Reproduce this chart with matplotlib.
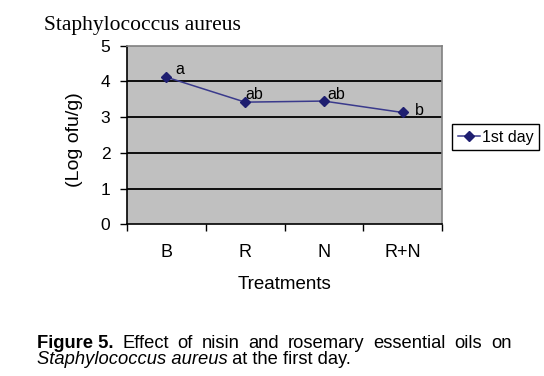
import matplotlib
matplotlib.use("Agg")
import matplotlib.pyplot as plt
from matplotlib.lines import Line2D

categories = ["B", "R", "N", "R+N"]
values = [4.12, 3.42, 3.45, 3.13]
letters = ["a", "ab", "ab", "b"]
series_name = "1st day"
y_ticks = [0, 1, 2, 3, 4, 5]

W, H = 544, 376
fig = plt.figure(figsize=(W / 100, H / 100), dpi=100)
plt.rcParams['font.family'] = ['Liberation Sans', 'DejaVu Sans']

L, R, T, B = 127, 442, 45.7, 224.3
ax = fig.add_axes([L / W, 1 - B / H, (R - L) / W, (B - T) / H])
ax.set_facecolor('#C0C0C0')
x = list(range(len(categories)))
ax.set_xlim(-0.5, len(categories) - 0.5)
ax.set_ylim(0, 5)
for yv in y_ticks[1:-1]:
    ax.axhline(yv, color='black', lw=1.3, zorder=1)

line_col = '#3A3A8C'
ax.plot(x, values, color=line_col, lw=1.1, marker='D', markersize=5,
        markerfacecolor='#1E1E70', markeredgecolor='#1E1E70', zorder=3)

offsets = [(9, 8), (0, 8), (4, 7), (12, 2)]
for xi, v, lab, off in zip(x, values, letters, offsets):
    ax.annotate(lab, (xi, v), xytext=off, textcoords='offset pixels',
                ha='left', va='center', fontsize=11.5, color='black')

ax.set_yticks(y_ticks)
ax.set_yticklabels([str(t) for t in y_ticks], fontsize=12.5)
ax.tick_params(axis='y', length=5, width=1, direction='out', pad=7, color='black')
ax.set_xticks(x)
ax.set_xticklabels(categories, fontsize=13)
ax.tick_params(axis='x', which='major', length=0, pad=14)
ax.set_xticks([i - 0.5 for i in range(len(categories) + 1)], minor=True)
ax.tick_params(axis='x', which='minor', length=5, width=1, direction='out', color='black')

ax.spines['left'].set_color('black')
ax.spines['bottom'].set_color('black')
ax.spines['top'].set_color('#808080')
ax.spines['right'].set_color('#808080')
for s in ax.spines.values():
    s.set_linewidth(1.2)

ax.set_xlabel("Treatments", fontsize=13.5, labelpad=11)
ax.set_ylabel("(Log ofu/g)", fontsize=14)
ax.yaxis.set_label_coords(-0.14, 0.475)

fig.text(44 / W, 1 - 30 / H, "Staphylococcus aureus", fontsize=15.5,
         family=['Liberation Serif', 'DejaVu Serif'], ha='left', va='baseline')

h = Line2D([], [], color=line_col, lw=1.1, marker='D', markersize=5,
           markerfacecolor='#1E1E70', markeredgecolor='#1E1E70')
leg = fig.legend([h], [series_name], loc='upper left',
                 bbox_to_anchor=(452 / W, 1 - 124 / H), fontsize=11.5,
                 frameon=True, fancybox=False, edgecolor='black', framealpha=1,
                 handlelength=1.4, handletextpad=0.1, borderpad=0.35,
                 borderaxespad=0)
leg.get_frame().set_linewidth(1.0)

# caption, first line justified
cap_fs = 13.2
x0, x1 = 36.7, 511.7
line1 = [("Figure 5.", 'bold')] + [(w, 'normal') for w in
         "Effect of nisin and rosemary essential oils on".split()]
objs = [fig.text(0, 1 - 343 / H, w, fontsize=cap_fs, fontweight=fw,
                 ha='left', va='center') for w, fw in line1]
fig.canvas.draw()
r = fig.canvas.get_renderer()
widths = [o.get_window_extent(r).width for o in objs]
gap = (x1 - x0 - sum(widths)) / (len(objs) - 1)
pos = x0
for o, wd in zip(objs, widths):
    o.set_x(pos / W)
    pos += wd + gap

t2 = fig.text(x0 / W, 1 - 359 / H, "Staphylococcus aureus", fontsize=cap_fs,
              style='italic', ha='left', va='center')
fig.add_artist(matplotlib.text.Annotation(" at the first day.", xy=(1, 0.5),
               xycoords=t2, ha='left', va='center', fontsize=cap_fs))

fig.savefig("out.png", dpi=100)
